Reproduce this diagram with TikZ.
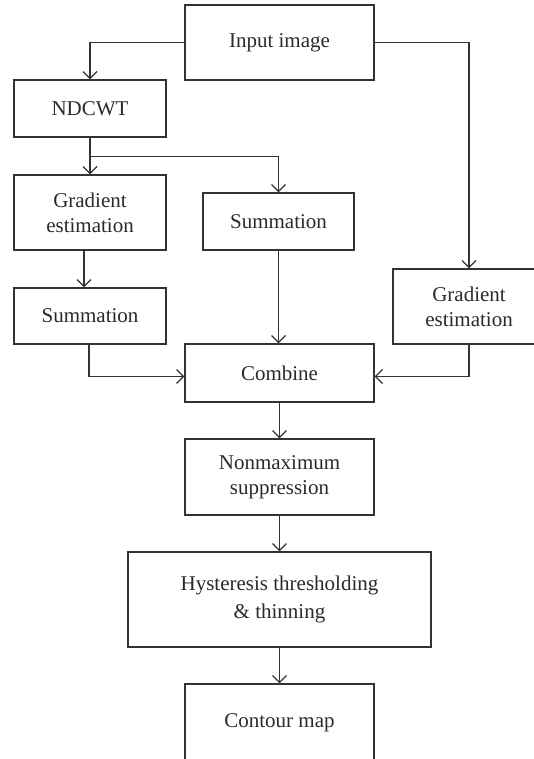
\documentclass[tikz,border=0pt]{standalone}
\usepackage{fontspec}
\setmainfont{Liberation Serif}
\usetikzlibrary{arrows.meta}
\definecolor{lc}{HTML}{333333}
\definecolor{tc}{HTML}{2A2A2A}
\begin{document}
\begin{tikzpicture}[x=1pt,y=-1pt,
  box/.style={draw=lc, line width=1.3pt, inner sep=0pt, align=center,
    font=\fontsize{21}{25}\selectfont, text=tc},
  arr/.style={draw=lc, line width=1.2pt,
    -{Straight Barb[length=7pt,width=14pt,line width=1.2pt]}}]
\useasboundingbox (0,0) rectangle (533,759);
\node[box, minimum width=189pt, minimum height=75pt] (inp) at (279.5,42.5) {Input image};
\node[box, minimum width=152pt, minimum height=57pt] (nd) at (90,108.5) {NDCWT};
\node[box, minimum width=152pt, minimum height=75pt] (g1) at (90,212.5) {Gradient\\estimation};
\node[box, minimum width=151pt, minimum height=57pt] (s2) at (278.5,221.5) {Summation};
\node[box, minimum width=152pt, minimum height=75pt] (g2) at (469,306.5) {Gradient\\estimation};
\node[box, minimum width=152pt, minimum height=56pt] (s1) at (90,316) {Summation};
\node[box, minimum width=189pt, minimum height=58pt] (comb) at (279.5,373) {Combine};
\node[box, minimum width=189pt, minimum height=76pt] (nm) at (279.5,477) {Nonmaximum\\suppression};
\node[box, minimum width=303pt, minimum height=95pt, font=\fontsize{21}{28}\selectfont] (hy) at (279.5,599.5) {Hysteresis thresholding\\\& thinning};
\node[box, minimum width=189pt, minimum height=77pt] (cm) at (279.5,722.5) {Contour map};
\draw[arr] (inp.west) -| (nd.north);
\draw[arr] (inp.east) -| (g2.north);
\draw[arr] (nd.south) -- (g1.north);
\draw[arr] (nd.south) ++(0,19) -| (s2.north);
\draw[arr] ([xshift=-6pt]g1.south) -- ([xshift=-6pt]s1.north);
\draw[arr] (s2.south) -- (s2.south |- comb.north);
\draw[arr] ([xshift=-1pt]s1.south) |- ([yshift=-3.5pt]comb.west);
\draw[arr] (g2.south) |- ([yshift=-3.5pt]comb.east);
\draw[arr] (comb.south) -- (nm.north);
\draw[arr] (nm.south) -- (hy.north);
\draw[arr] (hy.south) -- (cm.north);
\end{tikzpicture}
\end{document}
